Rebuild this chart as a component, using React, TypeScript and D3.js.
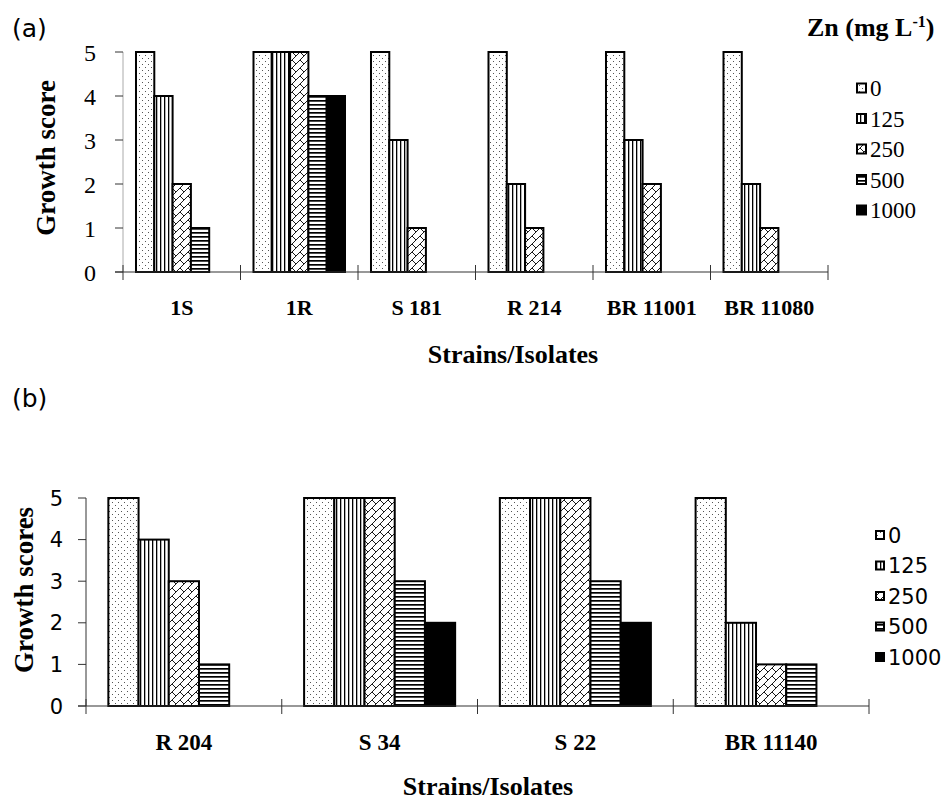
import React from "react";
import * as d3 from "d3";

const seriesLabels = ["0", "125", "250", "500", "1000"];
const yTickValues = [0, 1, 2, 3, 4, 5];

const topCategories = ["1S", "1R", "S 181", "R 214", "BR 11001", "BR 11080"];
const topZn0 = [5, 5, 5, 5, 5, 5];
const topZn125 = [4, 5, 3, 2, 3, 2];
const topZn250 = [2, 5, 1, 1, 2, 1];
const topZn500 = [1, 4, 0, 0, 0, 0];
const topZn1000 = [0, 4, 0, 0, 0, 0];

const bottomCategories = ["R 204", "S 34", "S 22", "BR 11140"];
const botZn0 = [5, 5, 5, 5];
const botZn125 = [4, 5, 5, 2];
const botZn250 = [3, 5, 5, 1];
const botZn500 = [1, 3, 3, 1];
const botZn1000 = [0, 2, 2, 0];

const SERIF = "'Liberation Serif', 'Times New Roman', serif";
const SANS = "'DejaVu Sans', 'Liberation Sans', sans-serif";
const fills = ["url(#p0)", "url(#p125)", "url(#p250)", "url(#p500)", "#000"];

type PanelProps = {
  categories: string[];
  series: number[][];
  xRange: [number, number];
  yRange: [number, number];
  outerPad: number;
  yAxisColor: string;
  tickFont: string;
  tickSize: number;
  tickLabelX: number;
  catLabelY: number;
  catFontSize: number;
  yTitle: string;
  yTitleX: number;
  yTitleY: number;
  xTitleX: number;
  xTitleY: number;
  legendX: number;
  legendY: number;
  legendFont: string;
  legendSize: number;
  legendBox: number;
};

function Panel(p: PanelProps) {
  const x0 = d3.scaleBand<string>().domain(p.categories).range(p.xRange).padding(0);
  const x1 = d3
    .scaleBand<string>()
    .domain(seriesLabels)
    .range([0, x0.bandwidth()])
    .paddingInner(0)
    .paddingOuter(p.outerPad);
  const y = d3.scaleLinear().domain([0, 5]).range(p.yRange);
  const y0 = y(0);
  const tickXs = p.categories.map((c) => x0(c) as number).concat([p.xRange[1]]);
  return (
    <g>
      {p.categories.map((c, ci) =>
        seriesLabels.map((s, si) => {
          const v = p.series[si][ci];
          if (!v) return null;
          return (
            <rect
              key={c + s}
              x={(x0(c) as number) + (x1(s) as number)}
              y={y(v)}
              width={x1.bandwidth()}
              height={y0 - y(v)}
              fill={fills[si]}
              stroke="#000"
              strokeWidth={2}
            />
          );
        })
      )}
      <line x1={p.xRange[0]} x2={p.xRange[0]} y1={y(5)} y2={y0} stroke={p.yAxisColor} strokeWidth={1} />
      {yTickValues.map((t) => (
        <g key={t}>
          <line x1={p.xRange[0] - 8} x2={p.xRange[0]} y1={y(t)} y2={y(t)} stroke="#333" strokeWidth={1} />
          <text
            x={p.tickLabelX}
            y={y(t)}
            dy="0.36em"
            textAnchor="end"
            fontFamily={p.tickFont}
            fontSize={p.tickSize}
            fill="#000"
          >
            {t}
          </text>
        </g>
      ))}
      <line x1={p.xRange[0] - 8} x2={p.xRange[1]} y1={y0} y2={y0} stroke="#333" strokeWidth={1.2} />
      {tickXs.map((tx, i) => (
        <line key={i} x1={tx} x2={tx} y1={y0 - 7} y2={y0 + 8} stroke="#333" strokeWidth={1} />
      ))}
      {p.categories.map((c) => (
        <text
          key={c}
          x={(x0(c) as number) + x0.bandwidth() / 2}
          y={p.catLabelY}
          textAnchor="middle"
          fontFamily={SERIF}
          fontWeight="bold"
          fontSize={p.catFontSize}
          fill="#000"
        >
          {c}
        </text>
      ))}
      <text
        x={p.xTitleX}
        y={p.xTitleY}
        textAnchor="middle"
        fontFamily={SERIF}
        fontWeight="bold"
        fontSize={26}
        fill="#000"
      >
        Strains/Isolates
      </text>
      <text
        transform={`translate(${p.yTitleX},${p.yTitleY}) rotate(-90)`}
        textAnchor="middle"
        fontFamily={SERIF}
        fontWeight="bold"
        fontSize={27}
        fill="#000"
      >
        {p.yTitle}
      </text>
      {seriesLabels.map((s, i) => {
        const cy = p.legendY + i * 30.5;
        return (
          <g key={s}>
            <rect
              x={p.legendX}
              y={cy - p.legendBox / 2}
              width={p.legendBox}
              height={p.legendBox}
              fill={fills[i]}
              stroke="#000"
              strokeWidth={2}
            />
            <text
              x={p.legendX + p.legendBox + 4}
              y={cy}
              dy="0.36em"
              fontFamily={p.legendFont}
              fontSize={p.legendSize}
              fill="#000"
            >
              {s}
            </text>
          </g>
        );
      })}
    </g>
  );
}

export default function App() {
  return (
    <svg
      width={948}
      height={801}
      style={{ position: "absolute", left: 0, top: 0, background: "#fff" }}
    >
      <defs>
        <pattern id="p0" width={6} height={6} patternUnits="userSpaceOnUse">
          <rect width={6} height={6} fill="#fff" />
          <rect x={1} y={1} width={1} height={1} fill="#555" />
          <rect x={4} y={4} width={1} height={1} fill="#555" />
        </pattern>
        <pattern id="p125" width={4} height={4} patternUnits="userSpaceOnUse">
          <rect width={4} height={4} fill="#fff" />
          <rect x={0} y={0} width={1.3} height={4} fill="#000" />
        </pattern>
        <pattern id="p250" width={8} height={8} patternUnits="userSpaceOnUse">
          <rect width={8} height={8} fill="#fff" />
          <path d="M-1,9 L9,-1 M4,4 L9,9" stroke="#000" strokeWidth={0.9} fill="none" />
        </pattern>
        <pattern id="p500" width={4} height={4} patternUnits="userSpaceOnUse">
          <rect width={4} height={4} fill="#fff" />
          <rect x={0} y={0} width={4} height={1.7} fill="#000" />
        </pattern>
      </defs>
      <rect width={948} height={801} fill="#fff" />
      <text x={12} y={37} fontFamily={SANS} fontSize={25} fill="#000">(a)</text>
      <text x={12} y={407} fontFamily={SANS} fontSize={25} fill="#000">(b)</text>
      <text x={807} y={36} fontFamily={SERIF} fontWeight="bold" fontSize={26} fill="#000">
        Zn (mg L<tspan dy={-9} fontSize={16}>-1</tspan>
        <tspan dy={9}>)</tspan>
      </text>
      <Panel
        categories={topCategories}
        series={[topZn0, topZn125, topZn250, topZn500, topZn1000]}
        xRange={[123, 828]}
        yRange={[272, 52]}
        outerPad={0.71}
        yAxisColor="#aaa"
        tickFont={SERIF}
        tickSize={24}
        tickLabelX={96}
        catLabelY={315}
        catFontSize={22}
        yTitle="Growth score"
        yTitleX={55}
        yTitleY={158}
        xTitleX={513}
        xTitleY={363}
        legendX={857}
        legendY={88}
        legendFont={SERIF}
        legendSize={23}
        legendBox={9}
      />
      <Panel
        categories={bottomCategories}
        series={[botZn0, botZn125, botZn250, botZn500, botZn1000]}
        xRange={[86, 869]}
        yRange={[706, 498]}
        outerPad={0.74}
        yAxisColor="#333"
        tickFont={SANS}
        tickSize={21}
        tickLabelX={63}
        catLabelY={750}
        catFontSize={23}
        yTitle="Growth scores"
        yTitleX={33}
        yTitleY={590}
        xTitleX={488}
        xTitleY={795}
        legendX={876}
        legendY={535}
        legendFont={SANS}
        legendSize={21}
        legendBox={8}
      />
    </svg>
  );
}
